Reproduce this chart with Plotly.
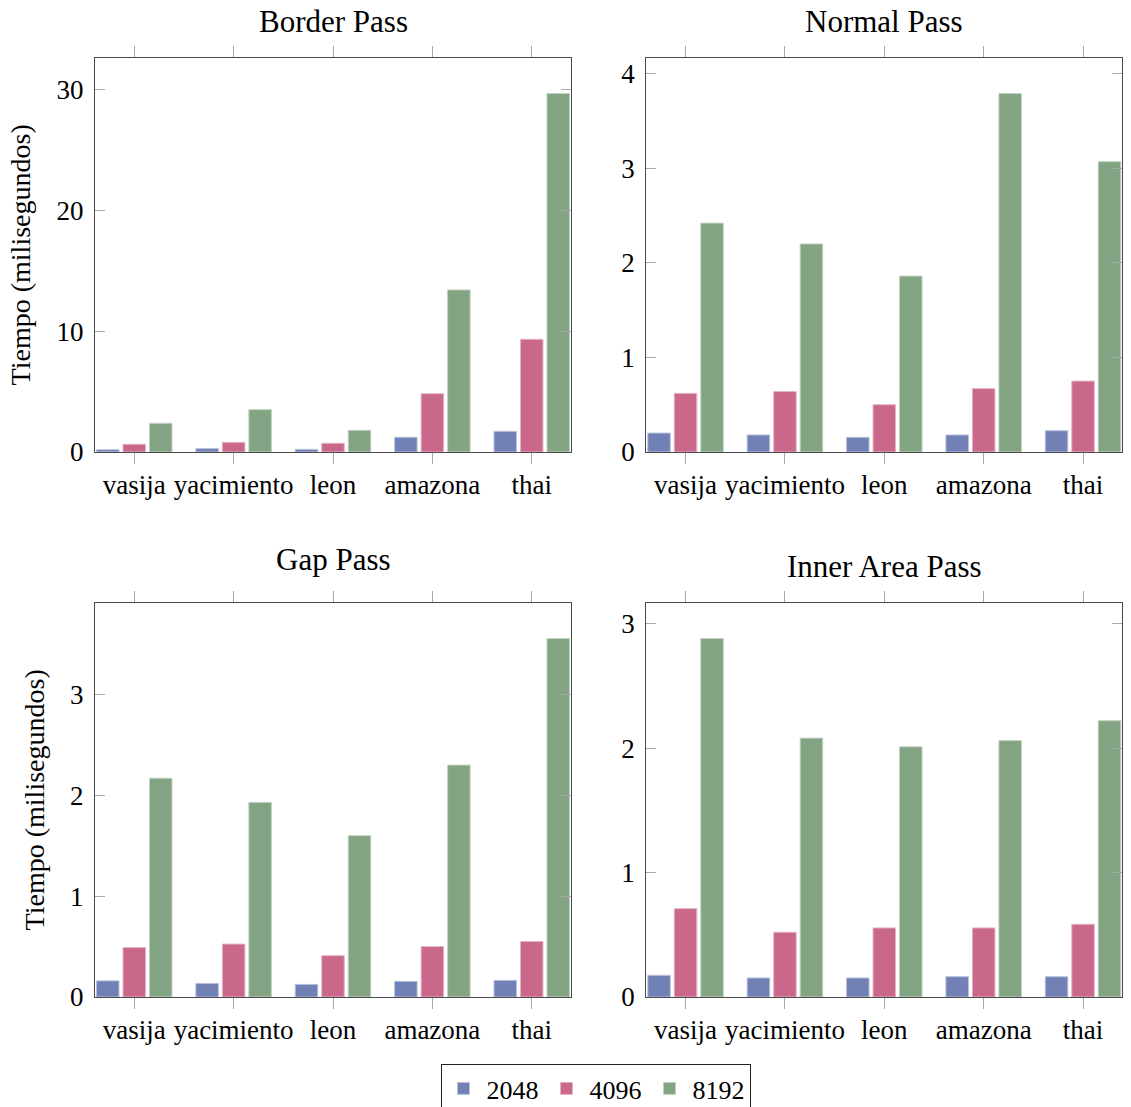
import plotly.graph_objects as go

# ---------------- data ----------------
categories = ["vasija", "yacimiento", "leon", "amazona", "thai"]
series_names = ["2048", "4096", "8192"]

border_2048 = [0.19, 0.28, 0.22, 1.22, 1.71]
border_4096 = [0.64, 0.80, 0.72, 4.83, 9.34]
border_8192 = [2.38, 3.51, 1.80, 13.43, 29.70]

normal_2048 = [0.20, 0.18, 0.155, 0.18, 0.225]
normal_4096 = [0.62, 0.64, 0.50, 0.67, 0.75]
normal_8192 = [2.42, 2.20, 1.86, 3.79, 3.07]

gap_2048 = [0.16, 0.135, 0.125, 0.155, 0.165]
gap_4096 = [0.49, 0.525, 0.41, 0.50, 0.55]
gap_8192 = [2.17, 1.93, 1.60, 2.30, 3.555]

inner_2048 = [0.174, 0.153, 0.153, 0.163, 0.163]
inner_4096 = [0.71, 0.52, 0.555, 0.555, 0.584]
inner_8192 = [2.88, 2.08, 2.01, 2.06, 2.22]

panel_titles = ["Border Pass", "Normal Pass", "Gap Pass", "Inner Area Pass"]
y_dticks = [10, 1, 1, 1]
y_label = "Tiempo (milisegundos)"

# ---------------- style ----------------
W, H = 1131, 1107
FONT = "Liberation Serif"
fills = ["#7181b5", "#c9688b", "#83a483"]
edges = ["#b8c0dc", "#e4b3c5", "#c1d2c1"]
frame_col = "#4a4a4a"
tick_col = "#a8a8a8"

def px_x(p):
    return p / W

def px_y(p):
    return 1 - p / H

col_dom = [[px_x(95), px_x(571)], [px_x(646.3), px_x(1122.3)]]
row_dom = [[px_y(452), px_y(57.7)], [px_y(997), px_y(602.7)]]

panel_data = [
    [border_2048, border_4096, border_8192],
    [normal_2048, normal_4096, normal_8192],
    [gap_2048, gap_4096, gap_8192],
    [inner_2048, inner_4096, inner_8192],
]

fig = go.Figure()
layout_axes = {}
annotations = []
for k in range(4):
    r, c = divmod(k, 2)
    xa = "x" if k == 0 else f"x{k+1}"
    ya = "y" if k == 0 else f"y{k+1}"
    xkey = "xaxis" if k == 0 else f"xaxis{k+1}"
    ykey = "yaxis" if k == 0 else f"yaxis{k+1}"
    for s in range(3):
        fig.add_trace(go.Bar(
            x=categories, y=panel_data[k][s], name=series_names[s],
            marker=dict(color=fills[s], line=dict(color=edges[s], width=1)),
            xaxis=xa, yaxis=ya, legendgroup=series_names[s],
            showlegend=(k == 0),
        ))
    ymax = max(max(v) for v in panel_data[k]) * 1.1
    layout_axes[xkey] = dict(
        domain=col_dom[c], anchor=ya, type="category",
        range=[-0.395, len(categories) - 1 + 0.395],
        showline=True, linecolor=frame_col, linewidth=1.3, mirror="ticks",
        ticks="outside", ticklen=11, tickcolor=tick_col, tickwidth=1.2,
        showgrid=False, zeroline=False,
        tickfont=dict(family=FONT, size=27, color="black"),
        ticklabelstandoff=-3,
    )
    yax = dict(
        domain=row_dom[r], anchor=xa, range=[0, ymax],
        tick0=0, dtick=y_dticks[k],
        showline=True, linecolor=frame_col, linewidth=1.3, mirror="ticks",
        ticks="inside", ticklen=10, tickcolor=tick_col, tickwidth=1.2,
        showgrid=False, zeroline=False,
        tickfont=dict(family=FONT, size=27, color="black"),
        ticklabelstandoff=5,
    )
    if c == 0:
        yax["title"] = dict(text=y_label, font=dict(family=FONT, size=28, color="black"), standoff=17)
    layout_axes[ykey] = yax
    title = panel_titles[k]
    lift = 7 if any(ch in "gjpqy" for ch in title) else 0
    annotations.append(dict(
        text=title, x=sum(col_dom[c]) / 2, xref="paper", xanchor="center",
        y=row_dom[r][1], yref="paper", yanchor="middle", yshift=36 + lift,
        showarrow=False, font=dict(family=FONT, size=31, color="black"),
    ))

fig.update_layout(
    width=W, height=H, autosize=False,
    margin=dict(l=0, r=0, t=0, b=0, autoexpand=False),
    paper_bgcolor="white", plot_bgcolor="white",
    font=dict(family=FONT, size=27, color="black"),
    barmode="group", bargap=0.2, bargroupgap=0.15,
    annotations=annotations,
    legend=dict(
        orientation="h", x=px_x(595.5), xanchor="center",
        y=px_y(1064), yanchor="top",
        bordercolor="#222222", borderwidth=1, bgcolor="white",
        font=dict(family=FONT, size=26, color="black"),
        itemwidth=36,
    ),
    **layout_axes,
)

fig.write_html(
    "out.html",
    config={"displayModeBar": False},
    post_script="document.body.style.margin='0';document.body.style.overflow='hidden';",
)
